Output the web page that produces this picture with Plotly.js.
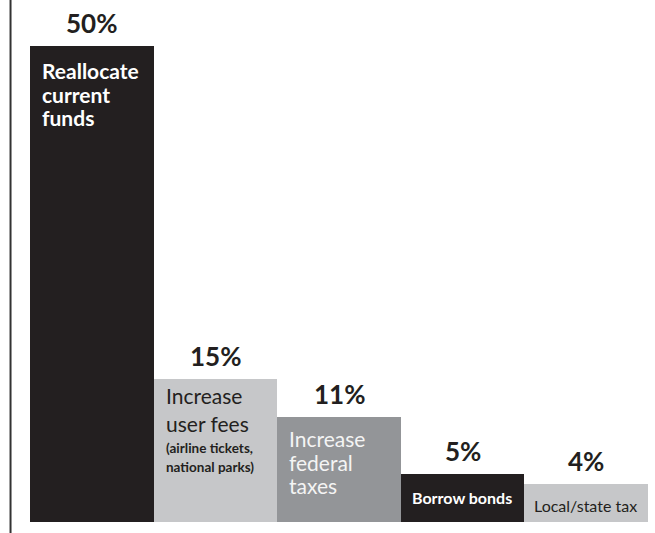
<!DOCTYPE html>
<html>
<head>
<meta charset="utf-8">
<script src="https://cdn.plot.ly/plotly-3.0.1.min.js"></script>
<style>html,body{margin:0;padding:0;background:#fff;}#chart{width:655px;height:533px;}</style>
</head>
<body>
<div id="chart"></div>
<script>
const categories = ["Reallocate current funds", "Increase user fees", "Increase federal taxes", "Borrow bonds", "Local/state tax"];
const values = [50, 15, 11, 5, 4];
const valueLabels = ["50%", "15%", "11%", "5%", "4%"];
// text blocks inside each bar (each block is a list of lines)
const barBlocks = [
  [["Reallocate", "current", "funds"]],
  [["Increase", "user fees"], ["(airline tickets,", "national parks)"]],
  [["Increase", "federal", "taxes"]],
  [["Borrow bonds"]],
  [["Local/state tax"]]
];

// styling (positions / sizes / colours)
const barColors = ["#231f20", "#c6c7c9", "#939598", "#231f20", "#c6c7c9"];
const textColors = ["#ffffff", "#231f20", "#f4f4f4", "#ffffff", "#231f20"];
// o: offset of block centre below bar top (px); s: glyph size; lh: base size setting line spacing
const blockStyles = [
  [{o: 48, s: 21, lh: 18.2, b: true}],
  [{o: 30, s: 21, lh: 21.5, b: false}, {o: 78.5, s: 13.5, lh: 14.8, b: true}],
  [{o: 45, s: 21, lh: 18.2, b: false}],
  [{o: 23, s: 16, lh: 16, b: true, c: true}],
  [{o: 22, s: 16, lh: 16, b: false, c: true}]
];
const FONT = 'Lato, "Open Sans", sans-serif';

const xs = categories.map((c, i) => i);
const annotations = [];
values.forEach((v, i) => {
  annotations.push({
    x: i, y: v, xref: 'x', yref: 'y', text: '<b>' + valueLabels[i] + '</b>',
    showarrow: false, xanchor: 'center', yanchor: 'middle', yshift: 23,
    font: {family: FONT, size: 26, color: '#231f20'}
  });
  barBlocks[i].forEach((lines, j) => {
    const st = blockStyles[i][j];
    const inner = lines.map(ln => '<span style="font-size:' + st.s + 'px">' + (st.b ? '<b>' + ln + '</b>' : ln) + '</span>').join('<br>');
    annotations.push({
      x: st.c ? i : i - 0.5, y: v, xref: 'x', yref: 'y',
      text: inner,
      showarrow: false, xanchor: st.c ? 'center' : 'left', yanchor: 'middle', align: 'left',
      xshift: st.c ? -1 : 11, yshift: -st.o, borderpad: 0,
      font: {family: FONT, size: st.lh, color: textColors[i]}
    });
  });
});

const trace = {
  type: 'bar', x: xs, y: values,
  marker: {color: barColors, line: {width: 0}},
  hoverinfo: 'skip'
};

const layout = {
  width: 655, height: 533,
  margin: {l: 30, r: 7, t: 0, b: 11},
  paper_bgcolor: '#ffffff', plot_bgcolor: '#ffffff',
  bargap: 0,
  showlegend: false,
  xaxis: {range: [-0.5, 4.5], showticklabels: false, showgrid: false, zeroline: false, showline: false, ticks: ''},
  yaxis: {range: [0, 54.83], showticklabels: false, showgrid: false, zeroline: false, showline: false, ticks: ''},
  annotations: annotations,
  shapes: [{
    type: 'line', xref: 'paper', yref: 'paper',
    x0: -0.0315, x1: -0.0315, y0: -0.03, y1: 1.01,
    line: {color: '#333333', width: 2}
  }]
};

Plotly.newPlot('chart', [trace], layout, {displayModeBar: false, staticPlot: true});
</script>
</body>
</html>
